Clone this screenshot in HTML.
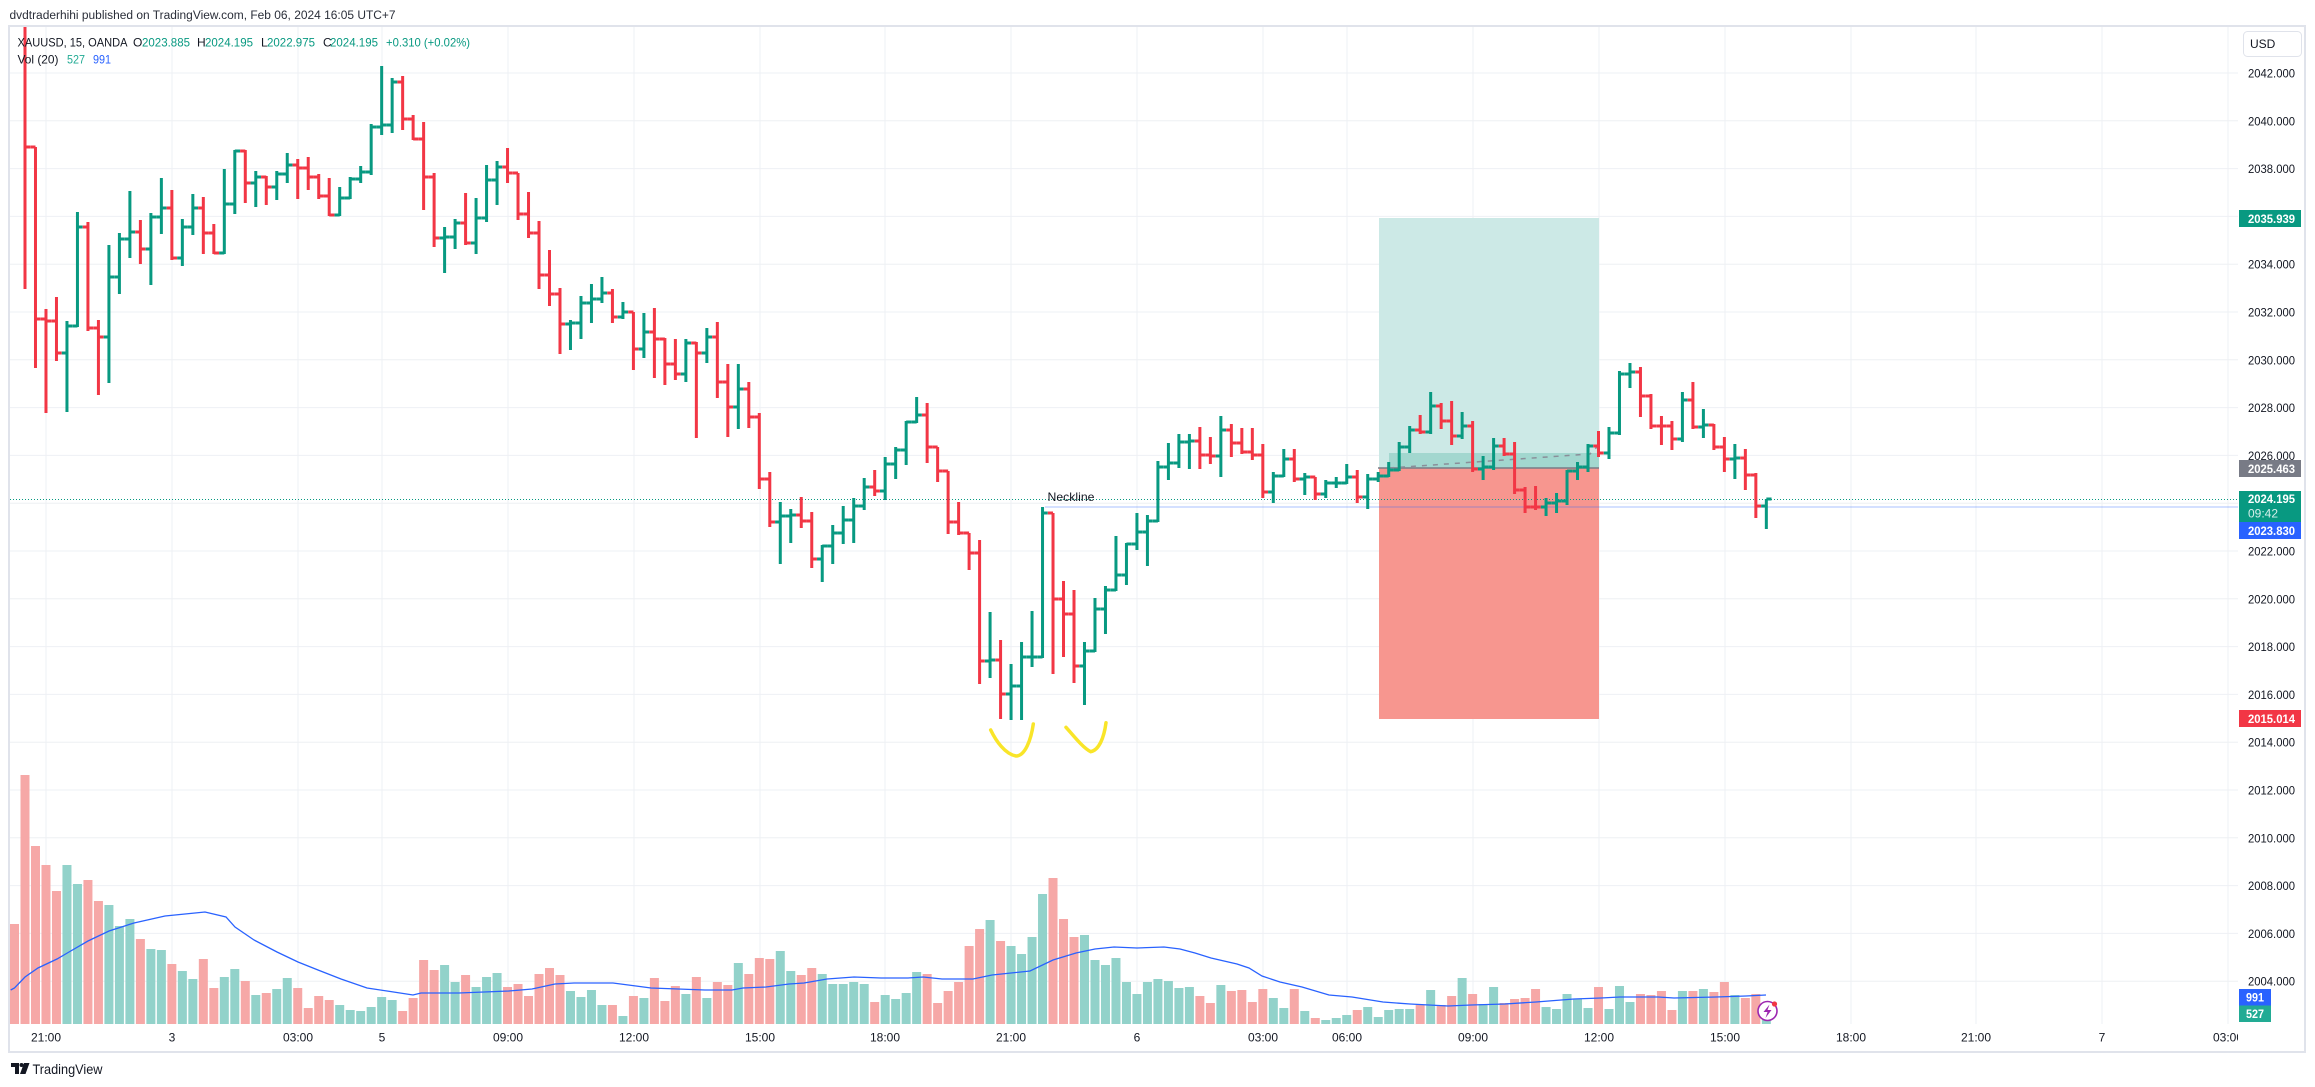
<!DOCTYPE html>
<html><head><meta charset="utf-8">
<style>
html,body{margin:0;padding:0;background:#fff;}
body{width:2315px;height:1087px;overflow:hidden;position:relative;}
svg text{font-family:"Liberation Sans",Arial,sans-serif;}
</style></head>
<body>
<svg id="c" width="2315" height="1087" xmlns="http://www.w3.org/2000/svg" style="position:absolute;left:0;top:0">
<defs>
<clipPath id="pane"><rect x="10" y="27" width="2228" height="997"/></clipPath>
<clipPath id="taxis"><rect x="10" y="1024" width="2228" height="28"/></clipPath>
</defs>
<rect width="2315" height="1087" fill="#fff"/>
<text x="9.5" y="19" font-size="11.5" fill="#2a2e39" textLength="386" lengthAdjust="spacingAndGlyphs">dvdtraderhihi published on TradingView.com, Feb 06, 2024 16:05 UTC+7</text>
<g id="grid" clip-path="url(#pane)"></g>
<g clip-path="url(#pane)">
<rect x="1379" y="218" width="220" height="250" fill="#cce9e6"/>
<rect x="1379" y="468" width="220" height="251" fill="#f7968f"/>
<rect x="1389" y="453" width="210" height="15" fill="#a2d7cf"/>
<line x1="1378" y1="468" x2="1599" y2="468" stroke="#787b86" stroke-width="1.5"/>
<polyline points="1389,468 1590,454 1597,447" fill="none" stroke="#8a8e99" stroke-width="1.5" stroke-dasharray="5 6"/>
<g id="vol"></g>
<polyline id="ma" fill="none" stroke="#2962ff" stroke-width="1.3" points="10.7,990 14.5,988 25,977 38,968 57,959 69,952 88,941 109,931 134,923 165,916 205,912 226,917 235,927 254,940 277,952 298,962 318,970 341,979 367,988 387,991 413,995 421,993 459,993 509,991 532,989 555,984 574,983 590,983 613,983 636,986 651,988 678,989 705,990 732,990 743,988 766,987 789,984 804,983 827,979 854,977 881,978 908,978 923,977 942,979 957,979 973,979 992,975 1011,973 1030,971 1053,960 1076,953 1095,949 1114,947 1137,948 1164,947 1180,949 1195,953 1211,958 1237,964 1249,968 1262,976 1280,982 1302,987 1329,995 1352,997 1383,1002 1410,1004 1448,1006 1471,1005 1505,1004 1536,1002 1574,999 1601,998 1620,997 1658,997 1674,998 1716,997 1746,996 1766,995"/>
<line x1="1045" y1="507" x2="2238" y2="507" stroke="#2962ff" stroke-opacity="0.2" stroke-width="2"/>
<line x1="10" y1="499.5" x2="2238" y2="499.5" stroke="#089981" stroke-width="1" stroke-dasharray="1 2"/>
<g id="bars"></g>
<text x="1047.5" y="501" font-size="12" fill="#131722" textLength="47" lengthAdjust="spacingAndGlyphs">Neckline</text>
<path d="M990.7,730 C996,741 1005,754 1016,756 C1025,756 1031,740 1033.3,724" fill="none" stroke="#f9e529" stroke-width="3.5" stroke-linecap="round"/>
<path d="M1066,727.3 C1073,735 1083,748 1090.7,751.7 C1099,750 1104,738 1106,722.7" fill="none" stroke="#f9e529" stroke-width="3.5" stroke-linecap="round"/>
<circle cx="1767.5" cy="1011" r="9.5" fill="#fff" stroke="#9c27b0" stroke-width="1.6"/>
<path d="M1769.5,1004.5 L1763.5,1012 H1767.5 L1765.5,1018 L1771.5,1010 H1767.5 Z" fill="#9c27b0"/>
<circle cx="1774.5" cy="1004" r="2.6" fill="#f23645"/>
</g>
<!-- legend -->
<g font-size="12">
<text x="17.5" y="46.5" fill="#131722" textLength="110" lengthAdjust="spacingAndGlyphs">XAUUSD, 15, OANDA</text>
<text x="133" y="46.5" fill="#131722">O</text><text x="142" y="46.5" fill="#089981" textLength="48" lengthAdjust="spacingAndGlyphs">2023.885</text>
<text x="197" y="46.5" fill="#131722">H</text><text x="205" y="46.5" fill="#089981" textLength="48" lengthAdjust="spacingAndGlyphs">2024.195</text>
<text x="261" y="46.5" fill="#131722">L</text><text x="267" y="46.5" fill="#089981" textLength="48" lengthAdjust="spacingAndGlyphs">2022.975</text>
<text x="323" y="46.5" fill="#131722">C</text><text x="330" y="46.5" fill="#089981" textLength="48" lengthAdjust="spacingAndGlyphs">2024.195</text>
<text x="386" y="46.5" fill="#089981" textLength="84" lengthAdjust="spacingAndGlyphs">+0.310 (+0.02%)</text>
<text x="17.5" y="63.5" fill="#131722" textLength="41" lengthAdjust="spacingAndGlyphs">Vol (20)</text>
<text x="67" y="63.5" fill="#22ab94" textLength="18" lengthAdjust="spacingAndGlyphs">527</text>
<text x="93" y="63.5" fill="#2962ff" textLength="18" lengthAdjust="spacingAndGlyphs">991</text>
</g>
<!-- price axis -->
<rect x="2243.5" y="31.5" width="58" height="25" rx="4" fill="#fff" stroke="#e0e3eb" stroke-width="1"/>
<text x="2250" y="48" font-size="12" fill="#131722">USD</text>
<g font-size="12" fill="#131722">
<text x="2248" y="77.5" textLength="47" lengthAdjust="spacingAndGlyphs">2042.000</text>
<text x="2248" y="125.3" textLength="47" lengthAdjust="spacingAndGlyphs">2040.000</text>
<text x="2248" y="173.1" textLength="47" lengthAdjust="spacingAndGlyphs">2038.000</text>
<text x="2248" y="268.7" textLength="47" lengthAdjust="spacingAndGlyphs">2034.000</text>
<text x="2248" y="316.5" textLength="47" lengthAdjust="spacingAndGlyphs">2032.000</text>
<text x="2248" y="364.3" textLength="47" lengthAdjust="spacingAndGlyphs">2030.000</text>
<text x="2248" y="412.1" textLength="47" lengthAdjust="spacingAndGlyphs">2028.000</text>
<text x="2248" y="459.9" textLength="47" lengthAdjust="spacingAndGlyphs">2026.000</text>
<text x="2248" y="555.5" textLength="47" lengthAdjust="spacingAndGlyphs">2022.000</text>
<text x="2248" y="603.3" textLength="47" lengthAdjust="spacingAndGlyphs">2020.000</text>
<text x="2248" y="651.1" textLength="47" lengthAdjust="spacingAndGlyphs">2018.000</text>
<text x="2248" y="698.9" textLength="47" lengthAdjust="spacingAndGlyphs">2016.000</text>
<text x="2248" y="746.7" textLength="47" lengthAdjust="spacingAndGlyphs">2014.000</text>
<text x="2248" y="794.5" textLength="47" lengthAdjust="spacingAndGlyphs">2012.000</text>
<text x="2248" y="842.3" textLength="47" lengthAdjust="spacingAndGlyphs">2010.000</text>
<text x="2248" y="890.1" textLength="47" lengthAdjust="spacingAndGlyphs">2008.000</text>
<text x="2248" y="937.9" textLength="47" lengthAdjust="spacingAndGlyphs">2006.000</text>
<text x="2248" y="985.7" textLength="47" lengthAdjust="spacingAndGlyphs">2004.000</text>
</g>
<g font-size="12" font-weight="bold" fill="#fff">
<rect x="2239" y="210" width="62" height="17" fill="#089981"/>
<text x="2248" y="223" textLength="47" lengthAdjust="spacingAndGlyphs">2035.939</text>
<rect x="2239" y="460" width="62" height="17" fill="#787b86"/>
<text x="2248" y="473" textLength="47" lengthAdjust="spacingAndGlyphs">2025.463</text>
<rect x="2239" y="491" width="62" height="31" fill="#089981"/>
<text x="2248" y="503" textLength="47" lengthAdjust="spacingAndGlyphs">2024.195</text>
<text x="2248" y="517.5" fill="#d5efea" font-weight="normal" textLength="30" lengthAdjust="spacingAndGlyphs">09:42</text>
<rect x="2239" y="522" width="62" height="17" fill="#2962ff"/>
<text x="2248" y="535" textLength="47" lengthAdjust="spacingAndGlyphs">2023.830</text>
<rect x="2239" y="710" width="62" height="17" fill="#f23645"/>
<text x="2248" y="723" textLength="47" lengthAdjust="spacingAndGlyphs">2015.014</text>
<rect x="2239" y="989" width="32" height="16.5" fill="#2962ff"/>
<text x="2246" y="1001.5" textLength="18" lengthAdjust="spacingAndGlyphs">991</text>
<rect x="2239" y="1005.5" width="32" height="16.5" fill="#22ab94"/>
<text x="2246" y="1018" textLength="18" lengthAdjust="spacingAndGlyphs">527</text>
</g>
<!-- time axis -->
<g font-size="12" fill="#131722" text-anchor="middle" clip-path="url(#taxis)">
<text x="46" y="1041.5">21:00</text>
<text x="172" y="1041.5">3</text>
<text x="298" y="1041.5">03:00</text>
<text x="382" y="1041.5">5</text>
<text x="508" y="1041.5">09:00</text>
<text x="634" y="1041.5">12:00</text>
<text x="760" y="1041.5">15:00</text>
<text x="885" y="1041.5">18:00</text>
<text x="1011" y="1041.5">21:00</text>
<text x="1137" y="1041.5">6</text>
<text x="1263" y="1041.5">03:00</text>
<text x="1347" y="1041.5">06:00</text>
<text x="1473" y="1041.5">09:00</text>
<text x="1599" y="1041.5">12:00</text>
<text x="1725" y="1041.5">15:00</text>
<text x="1851" y="1041.5">18:00</text>
<text x="1976" y="1041.5">21:00</text>
<text x="2102" y="1041.5">7</text>
<text x="2228" y="1041.5">03:00</text>
</g>
<rect x="9" y="26" width="2296" height="1026" fill="none" stroke="#e0e3eb" stroke-width="2"/>
<!-- footer logo -->
<g fill="#131722">
<path d="M11,1063 H19 V1074 H15 V1067 H11 Z"/>
<circle cx="21.5" cy="1065" r="2"/>
<path d="M24,1063 H29.5 L25.5,1074 H20 Z"/>
</g>
<text x="32.5" y="1074" font-size="14" fill="#131722" textLength="70" lengthAdjust="spacingAndGlyphs">TradingView</text>
</svg>
<script>
(function(){
var B=[
[-10,-10,288,147],[147,147,367,319],[319,309,412,321],[321,297,360,353],[353,321,411,326],
[326,212,326,227],[227,222,330,328],[328,320,394,337],[337,245,382,277],[277,233,293,239],
[239,191,257,232],[232,220,263,249],[249,213,284,217],[217,178,233,208],[208,190,259,258],
[258,219,265,227],[227,194,234,208],[208,197,253,233],[233,224,253,253],[253,169,253,204],
[204,150,213,151],[151,150,202,183],[183,171,206,177],[177,176,204,187],[187,171,199,174],
[174,153,182,165],[165,159,198,168],[168,157,189,177],[177,174,198,196],[196,178,215,215],
[215,187,215,198],[198,177,198,179],[179,166,182,172],[172,124,174,127],[127,66,134,125],
[125,78,132,82],[82,76,129,119],[119,115,139,139],[139,122,209,177],[177,173,246,238],
[238,227,272,237],[237,219,248,223],[223,193,244,243],[243,198,253,218],[218,165,221,180],
[180,161,204,167],[167,148,182,173],[173,173,219,214],[214,192,237,233],[233,221,288,275],
[275,250,305,294],[294,288,353,324],[324,320,349,323],[323,296,338,303],[303,284,322,299],
[299,277,302,293],[293,289,322,317],[317,302,318,312],[312,312,369,349],[349,313,357,332],
[332,308,377,339],[339,338,384,364],[364,339,379,374],[374,339,381,343],[343,342,437,353],
[353,328,362,337],[337,322,397,382],[382,364,436,407],[407,364,428,389],[389,382,427,417],
[417,413,488,479],[479,472,526,522],[522,502,563,516],[516,509,542,515],[515,497,527,521],
[521,512,567,559],[559,545,581,546],[546,525,563,533],[533,506,543,520],[520,498,542,506],
[506,478,509,487],[487,470,495,491],[491,457,499,464],[464,447,478,450],[450,421,464,422],
[422,397,422,415],[415,403,462,447],[447,447,481,471],[471,471,533,522],[522,502,534,533],
[533,533,569,553],[553,540,683,661],[661,612,677,660],[660,640,718,694],[694,664,719,686],
[686,642,719,657],[657,611,666,657],[657,507,657,513],[513,513,673,599],[599,581,656,614],
[614,590,682,666],[666,642,704,651],[651,598,651,609],[609,586,633,590],[590,536,590,575],
[575,543,584,544],[544,513,549,532],[532,515,565,521],[521,461,521,467],[467,443,479,463],
[463,434,467,442],[442,434,468,441],[441,427,468,455],[455,437,463,456],[456,416,476,430],
[430,424,456,443],[443,428,453,452],[452,428,459,455],[455,444,497,492],[492,472,502,476],
[476,449,476,459],[459,449,481,479],[479,473,494,477],[477,478,499,494],[494,480,497,483],
[483,477,487,483],[483,464,482,477],[477,470,502,497],[497,474,508,479],[479,472,481,476],
[476,462,476,470],[470,442,470,447],[447,426,452,430],[430,415,433,432],[432,392,433,406],
[406,403,428,421],[421,401,444,436],[436,412,438,426],[426,421,471,469],[469,456,479,467],
[467,438,469,446],[446,438,455,454],[454,442,493,490],[490,487,512,507],[507,486,509,507],
[507,498,515,503],[503,493,512,501],[501,470,504,471],[471,462,479,467],[467,444,471,446],
[446,431,456,453],[453,427,458,433],[433,371,434,374],[374,363,387,372],[372,367,416,396],
[396,394,428,426],[426,416,444,426],[426,421,449,439],[439,392,441,400],[400,382,428,427],
[427,409,437,425],[425,424,449,447],[447,437,471,459],[459,444,478,458],[458,449,489,475],
[475,473,517,506],[506,499,528,499]
];
var COL="r"+"rrrrggrrgg"+"grggrggrrg"+"grgrggrrrr"+"ggggggrrrr"+"ggrgggrrrr"+"rrggggrgrg"+"rrrgrgrrgr"+"rrggrrgggg"+"grggggrrrr"+"rrgrggggrr"+"rggggggggg"+"ggrrgrrrrg"+"grgrgggrgg"+"gggrgrrgrg"+"grrrrggggg"+"rgggrrrrgr"+"grrgrrg";
var V=[924,775,846,865,891,865,884,880,901,905,926,919,939,949,950,964,971,979,959,988,977,969,981,995,993,989,978,988,1008,996,1000,1005,1010,1011,1007,997,1000,1011,998,960,970,965,982,975,987,977,973,987,984,996,974,968,975,991,997,990,1005,1005,1016,996,998,978,1001,986,994,977,998,982,985,963,974,958,959,951,971,975,968,974,984,984,982,984,1002,995,999,993,972,974,1003,991,982,946,929,920,941,946,954,937,894,878,919,937,935,960,965,958,982,994,982,979,981,988,987,996,1003,985,991,990,1002,989,998,1008,989,1011,1018,1020,1018,1015,1010,1007,1017,1010,1009,1009,1005,990,1005,996,978,994,1004,987,1003,999,998,989,1007,1009,994,999,1008,987,1009,986,1002,994,995,991,1010,991,991,989,992,982,995,998,994,1020];
var SP=10.49, X0=25;
function bx(i){return X0+SP*(i-1);}
// grid
var g='';
for(var k=-1;k<=20;k++){var y=73+k*47.8; g+='<line x1="10" x2="2238" y1="'+y.toFixed(1)+'" y2="'+y.toFixed(1)+'" stroke="#eef0f4" stroke-width="1"/>';}
var tx=[46,172,298,382,508,634,760,885,1011,1137,1263,1347,1473,1599,1725,1851,1976,2102,2228];
for(var t=0;t<tx.length;t++){g+='<line x1="'+tx[t]+'" x2="'+tx[t]+'" y1="27" y2="1024" stroke="#eef0f4" stroke-width="1"/>';}
document.getElementById('grid').innerHTML=g;
// volume
var v='';
for(var i=0;i<V.length;i++){
  var x=(i===0)?14.5:bx(i);
  var c=COL.charAt(i)==='g'?'#92d2ca':'#f6a8a7';
  v+='<rect x="'+(x-4.5).toFixed(2)+'" y="'+V[i]+'" width="9" height="'+(1024-V[i])+'" fill="'+c+'"/>';
}
document.getElementById('vol').innerHTML=v;
// bars
var s='';
for(var i=1;i<=B.length;i++){
  var d=B[i-1],o=d[0],h=d[1],l=d[2],cl=d[3];
  var top=Math.min(h,o,cl), bot=Math.max(l,o,cl);
  var x=bx(i);
  var c=COL.charAt(i)==='g'?'#089981':'#f23645';
  s+='<rect x="'+(x-1.5).toFixed(2)+'" y="'+top+'" width="3" height="'+(bot-top+1)+'" fill="'+c+'"/>';
  s+='<rect x="'+(x-5.2).toFixed(2)+'" y="'+(o-1.5)+'" width="5.2" height="3" fill="'+c+'"/>';
  s+='<rect x="'+x.toFixed(2)+'" y="'+(cl-1.5)+'" width="5.2" height="3" fill="'+c+'"/>';
}
document.getElementById('bars').innerHTML=s;
})();
</script>
</body></html>
